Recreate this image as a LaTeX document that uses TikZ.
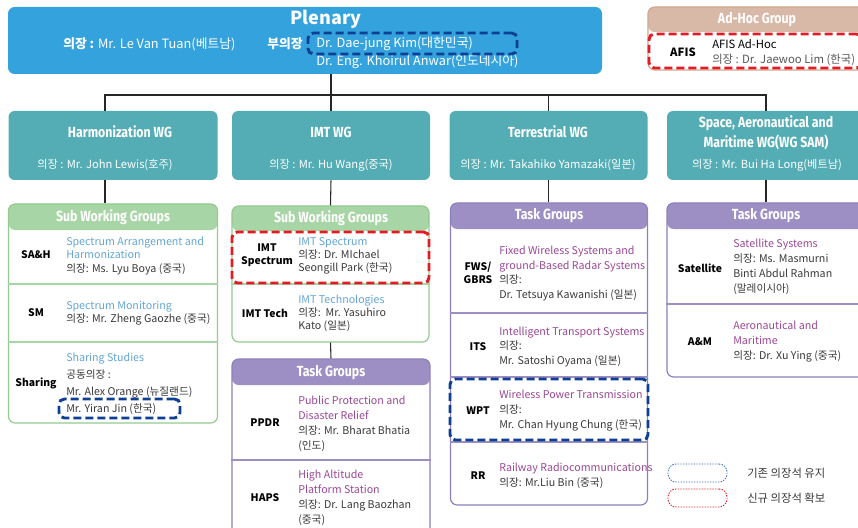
\documentclass[tikz,border=0pt]{standalone}
\usepackage{fontspec}
\setmainfont{Noto Sans CJK KR}
\newfontfamily\condfont{Fira Sans}[FakeStretch=0.84]
\definecolor{plblue}{HTML}{34A3DD}
\definecolor{wgteal}{HTML}{54ADB4}
\definecolor{ghead}{HTML}{A8D5A5}
\definecolor{gborder}{HTML}{92CA8F}
\definecolor{phead}{HTML}{9D8FC4}
\definecolor{pborder}{HTML}{8E80BD}
\definecolor{thead}{HTML}{D8B8A7}
\definecolor{tborder}{HTML}{D0A890}
\definecolor{lblue}{HTML}{64A6D6}
\definecolor{ptxt}{HTML}{9A4895}
\definecolor{dkblue}{HTML}{0D3F94}
\definecolor{redd}{HTML}{E31B23}
\definecolor{legblue}{HTML}{3C73C8}
\definecolor{bodytxt}{HTML}{3A3A3A}
\begin{document}
\begin{tikzpicture}[x=0.75pt,y=-0.75pt,
  conn/.style={draw=black!85, line width=0.8pt},
  wgbox/.style={fill=wgteal, rounded corners=4.5pt, inner sep=0pt},
  grp/.style n args={3}{draw=#1, line width=0.9pt, rounded corners=5pt, fill=white, inner sep=0pt,
     path picture={\fill[#2] (path picture bounding box.north west) rectangle ([yshift=-#3]path picture bounding box.north east);}},
  ttl/.style={font=\condfont\bfseries\fontsize{11}{13}\selectfont, text=white, inner sep=0pt, align=center},
  wgchair/.style={font=\fontsize{8.4}{10}\selectfont, text=white, inner sep=0pt},
  lbl/.style={font=\bfseries\fontsize{7.8}{10}\selectfont, text=black, align=center, inner sep=0pt},
  rtx/.style={font=\fontsize{8}{9.9}\selectfont, text=bodytxt, align=left, anchor=west, inner sep=0pt},
  rtxw/.style={font=\fontsize{8}{11.2}\selectfont, text=bodytxt, align=left, anchor=west, inner sep=0pt},
  gdiv/.style={draw=ghead, line width=0.8pt},
  pdiv/.style={draw=phead, line width=0.8pt},
  keep/.style={draw=dkblue, line width=2.2pt, dash pattern=on 6pt off 3pt, rounded corners=4pt, inner sep=0pt},
  newc/.style={draw=redd, line width=2.2pt, dash pattern=on 6pt off 3pt, rounded corners=4pt, inner sep=0pt},
  legbox/.style={draw=#1, line width=0.7pt, dash pattern=on 1pt off 1pt, rounded corners=6pt, inner sep=0pt, minimum width=44.25pt, minimum height=13.5pt},
  legtxt/.style={font=\fontsize{8.5}{10}\selectfont, text=bodytxt, anchor=west, inner sep=0pt},
  pltxt/.style={font=\fontsize{9.6}{11}\selectfont, text=white, anchor=west, inner sep=0pt}
]
\clip (0,0) rectangle (858,528);
\fill[white] (0,0) rectangle (858,528);

% ---------- Plenary ----------
\node[fill=plblue, rounded corners=5pt, inner sep=0pt, minimum width=445.5pt, minimum height=50.25pt] (pl) at (305,40.5) {};
\node[font=\bfseries\fontsize{13.5}{15}\selectfont, text=white, inner sep=0pt] (plt) at (326,19) {Plenary};
\node[pltxt] (plc) at (63,44) {\textbf{의장 :} Mr. Le Van Tuan(베트남)};
\node[pltxt, font=\bfseries\fontsize{9.6}{11}\selectfont] (plv) at (267,44) {부의장};
\node[pltxt] (plv1) at (316,44) {Dr. Dae-jung Kim(대한민국)};
\node[pltxt] (plv2) at (316,62) {Dr. Eng. Khoirul Anwar(인도네시아)};
\node[keep, minimum width=156.75pt, minimum height=15.75pt] (keepA) at (412.5,43.5) {};

% ---------- Ad-Hoc ----------
\node[grp={tborder}{thead}{18.75pt}, minimum width=162.75pt, minimum height=47.25pt] (ah) at (756.5,38.5) {};
\node[ttl] (aht) at (757,20) {Ad-Hoc Group};
\node[newc, minimum width=159.75pt, minimum height=25.5pt] (newA) at (755.5,51) {};
\node[lbl, font=\bfseries\fontsize{8.5}{10}\selectfont] (afis) at (683,52) {AFIS};
\node[font=\fontsize{8.5}{11}\selectfont, text=black, anchor=west, inner sep=0pt] (afis1) at (712,44.5) {AFIS Ad-Hoc};
\node[font=\fontsize{8.5}{11}\selectfont, text=black!65, anchor=west, inner sep=0pt] (afis2) at (712,60) {의장 : Dr. Jaewoo Lim (한국)};

% ---------- WG boxes ----------
\node[wgbox, minimum width=156.75pt, minimum height=51.75pt] (hwg) at (113,145.5) {};
\node[ttl] (hwgt) at (120,132) {Harmonization WG};
\node[wgchair] (hwgc) at (105,165) {의장 : Mr. John Lewis(호주)};

\node[wgbox, minimum width=148.5pt, minimum height=51.75pt] (iwg) at (331,145.5) {};
\node[ttl] (iwgt) at (331,132) {IMT WG};
\node[wgchair] (iwgc) at (331,165) {의장 : Mr. Hu Wang(중국)};

\node[wgbox, minimum width=148.5pt, minimum height=51.75pt] (twg) at (548.5,145.5) {};
\node[ttl] (twgt) at (548,132) {Terrestrial WG};
\node[wgchair] (twgc) at (548,165) {의장 : Mr. Takahiko Yamazaki(일본)};

\node[wgbox, minimum width=148.5pt, minimum height=51.75pt] (swg) at (766,145.5) {};
\node[ttl, font=\condfont\bfseries\fontsize{11}{15}\selectfont] (swgt) at (766,133) {Space, Aeronautical and\\Maritime WG(WG SAM)};
\node[wgchair] (swgc) at (767,165) {의장 : Mr. Bui Ha Long(베트남)};

% ---------- Harmonization Sub WGs ----------
\node[grp={gborder}{ghead}{19.5pt}, minimum width=156.75pt, minimum height=164.25pt] (hsub) at (113,313.5) {};
\node[ttl] (hsubt) at (113,217) {Sub Working Groups};
\draw[gdiv] (hsub.west |- 0,284) -- (hsub.east |- 0,284);
\draw[gdiv] (hsub.west |- 0,342) -- (hsub.east |- 0,342);
\node[lbl] (sah) at (36,255) {SA\&H};
\node[rtx] (saht) at (66,256) {\textcolor{lblue}{Spectrum Arrangement and}\\\textcolor{lblue}{Harmonization}\\의장: Ms. Lyu Boya (중국)};
\node[lbl] (sm) at (36,313) {SM};
\node[rtx] (smt) at (66,313.5) {\textcolor{lblue}{Spectrum Monitoring}\\의장: Mr. Zheng Gaozhe (중국)};
\node[lbl] (shr) at (36,383) {Sharing};
\node[rtx] (shr1) at (66,359) {\textcolor{lblue}{Sharing Studies}};
\node[rtx] (shr2) at (66,375) {공동의장 :};
\node[rtx] (shr3) at (66,392) {Mr. Alex Orange (뉴질랜드)};
\node[rtx] (shr4) at (66,409) {Mr. Yiran Jin (한국)};
\node[keep, minimum width=90.75pt, minimum height=14.25pt] (keepB) at (119.5,408.5) {};

% ---------- IMT Sub WGs ----------
\node[grp={gborder}{ghead}{18.75pt}, minimum width=147.75pt, minimum height=102pt] (isub) at (330.5,274) {};
\node[ttl] (isubt) at (331,218) {Sub Working Groups};
\draw[gdiv] (isub.west |- 0,284) -- (isub.east |- 0,284);
\node[lbl] (imts) at (267,255) {IMT\\Spectrum};
\node[rtx] (imtst) at (298,256) {\textcolor{lblue}{IMT Spectrum}\\의장: Dr. MIchael\\Seongill Park (한국)};
\node[newc, minimum width=147.75pt, minimum height=38.25pt] (newB) at (330.5,257.5) {};
\node[lbl] (imtt) at (265,313) {IMT Tech};
\node[rtx] (imttt) at (298,313.5) {\textcolor{lblue}{IMT Technologies}\\의장:~~Mr. Yasuhiro\\Kato (일본)};

% ---------- IMT Task Groups ----------
\node[grp={pborder}{phead}{19.5pt}, minimum width=148.5pt, minimum height=135.75pt] (itask) at (331,449.5) {};
\node[ttl] (itaskt) at (331,373) {Task Groups};
\draw[pdiv] (itask.west |- 0,460) -- (itask.east |- 0,460);
\node[lbl] (ppdr) at (265,423) {PPDR};
\node[rtxw] (ppdrt) at (298,424) {\textcolor{ptxt}{Public Protection and}\\\textcolor{ptxt}{Disaster Relief}\\의장: Mr. Bharat Bhatia\\(인도)};
\node[lbl] (haps) at (265,498) {HAPS};
\node[rtxw] (hapst) at (298,498) {\textcolor{ptxt}{High Altitude}\\\textcolor{ptxt}{Platform Station}\\의장: Dr. Lang Baozhan\\(중국)};

% ---------- Terrestrial Task Groups ----------
\node[grp={pborder}{phead}{19.5pt}, minimum width=147.75pt, minimum height=226.5pt] (ttask) at (549,354) {};
\node[ttl] (ttaskt) at (549,216) {Task Groups};
\draw[pdiv] (ttask.west |- 0,313) -- (ttask.east |- 0,313);
\draw[pdiv] (ttask.west |- 0,377) -- (ttask.east |- 0,377);
\draw[pdiv] (ttask.west |- 0,442) -- (ttask.east |- 0,442);
\node[lbl] (fws) at (478,273) {FWS/\\GBRS};
\node[rtxw] (fwst) at (499,273.5) {\textcolor{ptxt}{Fixed Wireless Systems and}\\\textcolor{ptxt}{ground-Based Radar Systems}\\의장:\\Dr. Tetsuya Kawanishi (일본)};
\node[lbl] (its) at (478,347) {ITS};
\node[rtxw] (itst) at (499,347) {\textcolor{ptxt}{Intelligent Transport Systems}\\의장:\\Mr. Satoshi Oyama (일본)};
\node[lbl] (wpt) at (478,411) {WPT};
\node[rtxw] (wptt) at (499,411) {\textcolor{ptxt}{Wireless Power Transmission}\\의장:\\Mr. Chan Hyung Chung (한국)};
\node[keep, minimum width=148.5pt, minimum height=45.75pt] (keepC) at (549,409.5) {};
\node[lbl] (rr) at (478,476) {RR};
\node[rtxw] (rrt) at (499,475.5) {\textcolor{ptxt}{Railway Radiocommunications}\\의장: Mr.Liu Bin (중국)};

% ---------- SAM Task Groups ----------
\node[grp={pborder}{phead}{19.5pt}, minimum width=148.5pt, minimum height=130.5pt] (stask) at (766,290) {};
\node[ttl] (staskt) at (766,216) {Task Groups};
\draw[pdiv] (stask.west |- 0,304) -- (stask.east |- 0,304);
\node[lbl] (sat) at (700,268) {Satellite};
\node[rtxw] (satt) at (733,267) {\textcolor{ptxt}{Satellite Systems}\\의장: Ms. Masmurni\\Binti Abdul Rahman\\(말레이시아)};
\node[lbl] (am) at (700,342) {A\&M};
\node[rtxw] (amt) at (733,341.5) {\textcolor{ptxt}{Aeronautical and}\\\textcolor{ptxt}{Maritime}\\의장: Dr. Xu Ying (중국)};

% ---------- Connectors ----------
\coordinate (bus) at (331,95);
\coordinate (hb) at (105,95);
\draw[conn] (pl.south -| bus) -- (bus);
\draw[conn] (hb |- hwg.north) -- (hb) -- (swg.north |- bus) -- (swg.north);
\draw[conn] (bus) -- (iwg.north);
\draw[conn] (twg.north |- bus) -- (twg.north);
\draw[conn] (hwg.south -| hb) -- (hsub.north -| hb);
\draw[conn] (iwg.south) -- (isub.north);
\draw[conn] (isub.south) -- (itask.north);
\draw[conn] (twg.south) -- (twg.south |- ttask.north);
\draw[conn] (swg.south) -- (stask.north);

% ---------- Legend ----------
\node[legbox=legblue] (legk) at (697.5,473) {};
\node[legtxt] (legkt) at (747,473) {기존 의장석 유지};
\node[legbox=redd] (legn) at (697.5,498) {};
\node[legtxt] (legnt) at (747,498) {신규 의장석 확보};
\end{tikzpicture}
\end{document}
